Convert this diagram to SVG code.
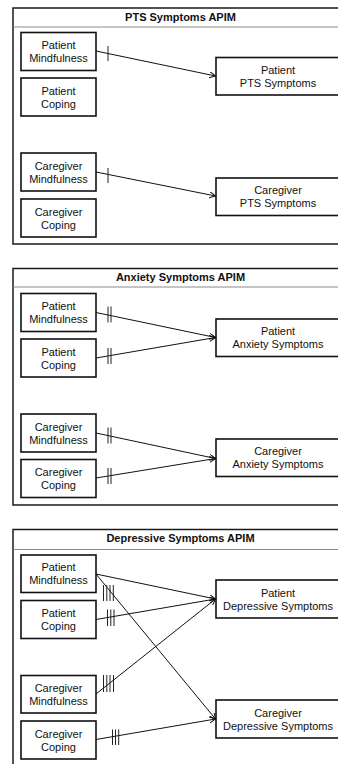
<svg xmlns="http://www.w3.org/2000/svg" width="338" height="764" viewBox="0 0 338 764">
<style>
.panel{fill:none;stroke:#1a1a1a;stroke-width:1.5}
.hdr{stroke:#8a8a8a;stroke-width:1}
.box{fill:#fff;stroke:#111;stroke-width:1.6}
.t{font-family:"Liberation Sans",Arial,sans-serif;font-size:11px;fill:#111;text-anchor:middle}
.title{font-weight:bold}
.c{stroke:#111;stroke-width:1;fill:none}
.tick{stroke:#222;stroke-width:1}
</style>
<defs>
<marker id="arr" markerUnits="userSpaceOnUse" markerWidth="8" markerHeight="8" refX="6" refY="3" orient="auto">
<path d="M0,0 L6,3 L0,6" fill="none" stroke="#111" stroke-width="1"/>
</marker>
</defs>
<rect width="338" height="764" fill="#fff"/>

<!-- Panel 1 -->
<g id="panel-pts">
<rect class="panel" x="13" y="8" width="335" height="236"/>
<line class="hdr" x1="13" y1="27" x2="348" y2="27"/>
<text class="t title" x="180.5" y="20.5">PTS Symptoms APIM</text>
</g>
<g id="pts-pm"><rect class="box" x="21" y="32.5" width="75" height="38"/><text class="t" x="58.5" y="49">Patient</text><text class="t" x="58.5" y="62">Mindfulness</text></g>
<g id="pts-pc"><rect class="box" x="21" y="78" width="75" height="38"/><text class="t" x="58.5" y="94.5">Patient</text><text class="t" x="58.5" y="107.5">Coping</text></g>
<g id="pts-cm"><rect class="box" x="21" y="153" width="75" height="38"/><text class="t" x="58.5" y="169.5">Caregiver</text><text class="t" x="58.5" y="182.5">Mindfulness</text></g>
<g id="pts-cc"><rect class="box" x="21" y="199" width="75" height="38"/><text class="t" x="58.5" y="215.5">Caregiver</text><text class="t" x="58.5" y="228.5">Coping</text></g>
<g id="pts-pt"><rect class="box" x="216" y="57.5" width="124" height="37.5"/><text class="t" x="278" y="73.5">Patient</text><text class="t" x="278" y="86.5">PTS Symptoms</text></g>
<g id="pts-ct"><rect class="box" x="216" y="178" width="124" height="37.5"/><text class="t" x="278" y="194">Caregiver</text><text class="t" x="278" y="207">PTS Symptoms</text></g>

<!-- Panel 2 -->
<g id="panel-anx">
<rect class="panel" x="13" y="268.5" width="335" height="236.5"/>
<line class="hdr" x1="13" y1="287" x2="348" y2="287"/>
<text class="t title" x="180.5" y="281">Anxiety Symptoms APIM</text>
</g>
<g id="anx-pm"><rect class="box" x="21" y="293.5" width="75" height="38"/><text class="t" x="58.5" y="310">Patient</text><text class="t" x="58.5" y="323">Mindfulness</text></g>
<g id="anx-pc"><rect class="box" x="21" y="339" width="75" height="38"/><text class="t" x="58.5" y="355.5">Patient</text><text class="t" x="58.5" y="368.5">Coping</text></g>
<g id="anx-cm"><rect class="box" x="21" y="414" width="75" height="38"/><text class="t" x="58.5" y="430.5">Caregiver</text><text class="t" x="58.5" y="443.5">Mindfulness</text></g>
<g id="anx-cc"><rect class="box" x="21" y="459.5" width="75" height="38"/><text class="t" x="58.5" y="476">Caregiver</text><text class="t" x="58.5" y="489">Coping</text></g>
<g id="anx-pt"><rect class="box" x="216" y="319" width="124" height="37.5"/><text class="t" x="278" y="335">Patient</text><text class="t" x="278" y="348">Anxiety Symptoms</text></g>
<g id="anx-ct"><rect class="box" x="216" y="439" width="124" height="37.5"/><text class="t" x="278" y="455">Caregiver</text><text class="t" x="278" y="468">Anxiety Symptoms</text></g>

<!-- Panel 3 -->
<g id="panel-dep">
<path class="panel" d="M13,766 V529.5 H348 M348,766"/>
<line class="hdr" x1="13" y1="549.5" x2="348" y2="549.5"/>
<text class="t title" x="180.5" y="542">Depressive Symptoms APIM</text>
</g>
<g id="dep-pm"><rect class="box" x="21" y="555" width="75" height="37.5"/><text class="t" x="58.5" y="571">Patient</text><text class="t" x="58.5" y="584">Mindfulness</text></g>
<g id="dep-pc"><rect class="box" x="21" y="600.5" width="75" height="38"/><text class="t" x="58.5" y="617">Patient</text><text class="t" x="58.5" y="630">Coping</text></g>
<g id="dep-cm"><rect class="box" x="21" y="675.5" width="75" height="37.5"/><text class="t" x="58.5" y="691.5">Caregiver</text><text class="t" x="58.5" y="704.5">Mindfulness</text></g>
<g id="dep-cc"><rect class="box" x="21" y="721" width="75" height="38"/><text class="t" x="58.5" y="737.5">Caregiver</text><text class="t" x="58.5" y="750.5">Coping</text></g>
<g id="dep-pt"><rect class="box" x="216" y="580" width="124" height="38"/><text class="t" x="278" y="596.5">Patient</text><text class="t" x="278" y="609.5">Depressive Symptoms</text></g>
<g id="dep-ct"><rect class="box" x="216" y="700" width="124" height="38"/><text class="t" x="278" y="716.5">Caregiver</text><text class="t" x="278" y="729.5">Depressive Symptoms</text></g>

<g id="connectors">
<!-- PTS -->
<line class="c" x1="96" y1="51" x2="215.5" y2="76" marker-end="url(#arr)"/>
<line class="c" x1="96" y1="172" x2="215.5" y2="196" marker-end="url(#arr)"/>
<line class="tick" x1="108" y1="46" x2="108" y2="61"/>
<line class="tick" x1="108" y1="168" x2="108" y2="183"/>
<!-- Anxiety -->
<line class="c" x1="96" y1="312.5" x2="215.5" y2="337.5" marker-end="url(#arr)"/>
<line class="c" x1="96" y1="358" x2="215.5" y2="337.5" marker-end="url(#arr)"/>
<line class="c" x1="96" y1="433" x2="215.5" y2="458.5" marker-end="url(#arr)"/>
<line class="c" x1="96" y1="478" x2="215.5" y2="458.5" marker-end="url(#arr)"/>
<path class="tick" d="M108,306.5V322.5M111,306.5V322.5"/>
<path class="tick" d="M108,348V364M111,348V364"/>
<path class="tick" d="M108,427.5V443.5M111,427.5V443.5"/>
<path class="tick" d="M108,468V484M111,468V484"/>
<!-- Depressive -->
<line class="c" x1="96" y1="574" x2="215.5" y2="599" marker-end="url(#arr)"/>
<line class="c" x1="96" y1="619.5" x2="215.5" y2="599" marker-end="url(#arr)"/>
<line class="c" x1="96" y1="694" x2="215.5" y2="599" marker-end="url(#arr)"/>
<line class="c" x1="96" y1="574" x2="215.5" y2="719" marker-end="url(#arr)"/>
<line class="c" x1="96" y1="739.5" x2="215.5" y2="719" marker-end="url(#arr)"/>
<path class="tick" d="M103.5,585V601M106.8,585V601M110,585V601M113.3,585V601"/>
<path class="tick" d="M107.5,609.5V626M110.8,609.5V626M114,609.5V626"/>
<path class="tick" d="M103.5,675V692M106.8,675V692M110,675V692M113.5,675V692"/>
<path class="tick" d="M112.5,729.5V745M115.5,729.5V745M118.7,729.5V745"/>
</g>
</svg>
